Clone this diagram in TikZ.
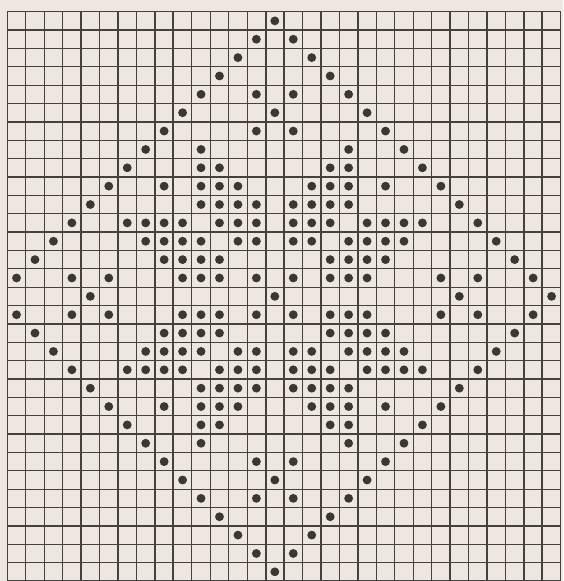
\documentclass[tikz,border=0pt]{standalone}
\usepackage{xcolor}
\usepackage{tikz}
\definecolor{chartPaper}{HTML}{EDE7E0}
\definecolor{chartInk}{HTML}{45413D}
\definecolor{chartDot}{HTML}{3A3734}

\begin{document}
\begin{tikzpicture}[x=0.5cm, y=0.4977cm,
    gridline/.style={chartInk, line width=1.0pt},
    majorline/.style={chartInk, line width=1.5pt},
    stitch/.style={fill=chartDot},
  ]
  \fill[chartPaper] (-0.396,0.637) rectangle (30.12,-31);
  \useasboundingbox (-0.396,0.637) rectangle (30.12,-31);
  \foreach \i in {0,...,31} \draw[gridline] (0,-\i) -- (30,-\i);
  \foreach \i in {0,...,30} \draw[gridline] (\i,0) -- (\i,-31);
  \foreach \i in {4,9,...,29} \draw[majorline] (\i,0) -- (\i,-31);
  \foreach \r/\cols in {
      0/{14},
      1/{13,15},
      2/{12,16},
      3/{11,17},
      4/{10,13,15,18},
      5/{9,14,19},
      6/{8,13,15,20},
      7/{7,10,18,21},
      8/{6,10,11,17,18,22},
      9/{5,8,10,11,12,16,17,18,20,23},
      10/{4,10,11,12,13,15,16,17,18,24},
      11/{3,6,7,8,9,11,12,13,15,16,17,19,20,21,22,25},
      12/{2,7,8,9,10,12,13,15,16,18,19,20,21,26},
      13/{1,8,9,10,11,17,18,19,20,27},
      14/{0,3,5,9,10,11,13,15,17,18,19,23,25,28}} {
    \foreach \c in \cols {
      \fill[stitch] (\c+0.5,-\r-0.5) circle (0.24);
      \fill[stitch] (\c+0.5,\r-30.5) circle (0.24);
    }
  }
  \foreach \c in {4,14,24,29} \fill[stitch] (\c+0.5,-15.5) circle (0.24);
\end{tikzpicture}
\end{document}
